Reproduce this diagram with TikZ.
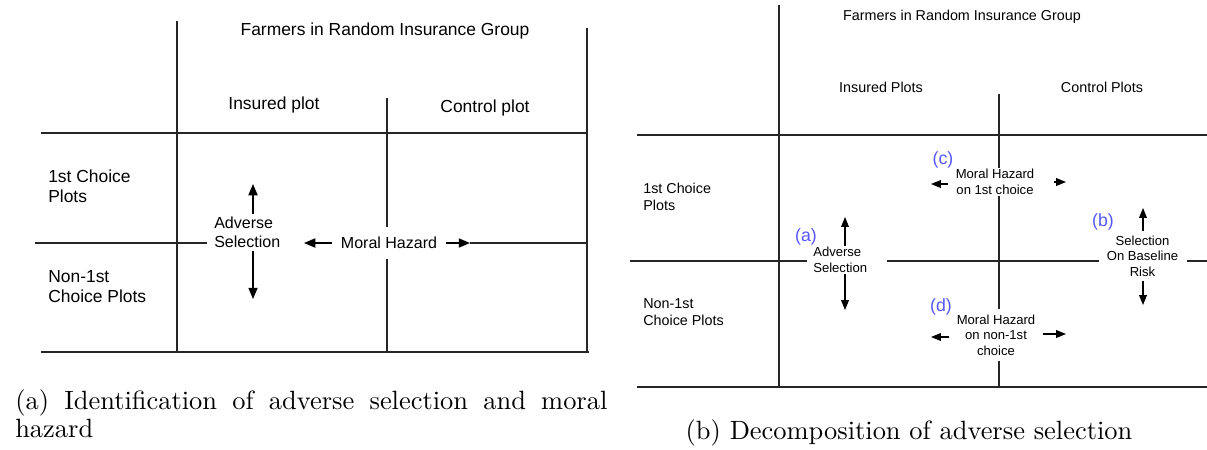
\documentclass[tikz,border=0pt]{standalone}
\usepackage{fontspec}
\newfontfamily\sans{Liberation Sans}
\newfontfamily\pief{lmroman10-regular}[Extension=.otf]
\usetikzlibrary{arrows.meta}
\definecolor{azul}{RGB}{85,85,250}
\tikzset{
  linea/.style={line width=0.9pt, black!85},
  flechaA/.style={line width=0.9pt, -{Triangle[length=8pt,width=6.5pt]}},
  flechaB/.style={line width=0.8pt, -{Triangle[length=7pt,width=5.5pt]}},
  titA/.style={font=\sans\fontsize{12.4}{14.2}\selectfont, inner sep=0pt, align=left},
  txtA/.style={font=\sans\fontsize{11.4}{13.5}\selectfont, inner sep=0pt, align=left},
  titB/.style={font=\sans\fontsize{10.2}{12}\selectfont, inner sep=0pt, align=left},
  txtB/.style={font=\sans\fontsize{9.3}{11}\selectfont, inner sep=0pt, align=center},
  letra/.style={font=\sans\fontsize{12.6}{14}\selectfont, text=azul, inner sep=0pt},
  pie/.style={font=\pief\fontsize{18.8}{19.9}\selectfont, inner sep=0pt}
}
\begin{document}
\begin{tikzpicture}[x=0.025cm, y=-0.025cm]
  \useasboundingbox (0,0) rectangle (1207,449);

  % Cuadro (a)
  \draw[linea] (177,21) -- (177,351);
  \draw[linea] (587,28) -- (587,351);
  \draw[linea] (41,133) -- (587,133);
  \draw[linea] (35,243) -- (207,243);
  \draw[linea] (41,352) -- (589,352);

  \node[titA] (farmA) at (385,31) {Farmers in Random Insurance Group};
  \node[titA] (insA) at (274,105) {Insured plot};
  \node[titA] (conA) at (485,108) {Control plot};
  \node[titA, anchor=west] (prA) at (48,186) {1st Choice\\Plots};
  \node[titA, anchor=west] (noA) at (48,287) {Non-1st\\Choice Plots};

  \node[txtA, anchor=west, inner ysep=2pt] (asA) at (214,232.5) {Adverse\\Selection};
  \node[txtA, inner xsep=6.3pt, inner ysep=7pt] (mhA) at (389,243) {Moral Hazard};

  \coordinate (asA-up) at (253,184);
  \coordinate (asA-dn) at (253,299);
  \coordinate (mhA-l) at (304,243);
  \coordinate (mhA-r) at (470,243);
  \coordinate (vA-top) at (387,98);
  \coordinate (vA-bot) at (387,351);

  \draw[linea] (vA-top) -- (vA-top |- mhA.north);
  \draw[linea] (vA-bot) -- (vA-bot |- mhA.south);
  \draw[flechaA] (asA.north -| asA-up) -- (asA-up);
  \draw[flechaA] (asA.south -| asA-dn) -- (asA-dn);
  \draw[flechaA] (mhA.west) -- (mhA-l);
  \draw[flechaA] (mhA.east) -- (mhA-r);
  \draw[linea] (mhA-r) -- (587,243);

  % Cuadro (b)
  \draw[linea] (779,5) -- (779,387);
  \draw[linea] (637,135) -- (1207,135);
  \draw[linea] (630,261) -- (807,261);
  \draw[linea] (887,261) -- (1099,261);
  \draw[linea] (1187,261) -- (1207,261);
  \draw[linea] (637,387) -- (1207,387);

  \node[titB] (farmB) at (962,17) {Farmers in Random Insurance Group};
  \node[titB] (insB) at (881,87) {Insured Plots};
  \node[titB] (conB) at (1102,87) {Control Plots};
  \node[titB, anchor=west] (prB) at (643,196.5) {1st Choice\\Plots};
  \node[titB, anchor=west] (noB) at (643,312.5) {Non-1st\\Choice Plots};

  \node[txtB, align=left, anchor=west, inner ysep=1pt] (asB) at (813,260) {Adverse\\Selection};
  \node[txtB, inner ysep=3pt] (selB) at (1142.5,256) {Selection\\On Baseline\\Risk};
  \node[txtB, inner xsep=5pt, inner ysep=1pt] (mhC) at (995,182) {Moral Hazard\\on 1st choice};
  \node[txtB, inner xsep=5pt, inner ysep=4pt] (mhD) at (996,335) {Moral Hazard\\on non-1st\\choice};

  \node[letra] (la) at (806,237) {(a)};
  \node[letra] (lb) at (1103,222) {(b)};
  \node[letra] (lc) at (943,160) {(c)};
  \node[letra] (ld) at (941,307) {(d)};

  \coordinate (asB-up) at (845,217);
  \coordinate (asB-dn) at (845,310);
  \coordinate (selB-up) at (1143,208);
  \coordinate (selB-dn) at (1143,305);
  \coordinate (mhC-l) at (931,184);
  \coordinate (mhC-r) at (1066,182);
  \coordinate (mhD-l) at (931,337);
  \coordinate (mhD-r) at (1066,334);
  \coordinate (vB-top) at (999,94);
  \coordinate (vB-bot) at (999,387);

  \draw[linea] (vB-top) -- (vB-top |- mhC.north);
  \draw[linea] (mhC.south -| vB-top) -- (mhD.north -| vB-top);
  \draw[linea] (vB-bot) -- (vB-bot |- mhD.south);
  \draw[flechaB] (asB.north -| asB-up) -- (asB-up);
  \draw[flechaB] (asB.south -| asB-dn) -- (asB-dn);
  \draw[flechaB] (selB.north -| selB-up) -- (selB-up);
  \draw[flechaB] (selB.south -| selB-dn) -- (selB-dn);
  \draw[flechaB] (mhC.west |- mhC-l) -- (mhC-l);
  \draw[flechaB] ([xshift=9pt]mhC.east |- mhC-r) -- (mhC-r);
  \draw[flechaB] (mhD.west |- mhD-l) -- (mhD-l);
  \draw[flechaB] (mhD.east |- mhD-r) -- (mhD-r);

  % Pies
  \node[pie, text width=14.8cm, align=justify, anchor=north west] (pieA) at (15,389)
    {(a) Identification of adverse selection and moral\linebreak hazard};
  \node[pie, anchor=base] (pieB) at (909,439) {(b) Decomposition of adverse selection};
\end{tikzpicture}
\end{document}
